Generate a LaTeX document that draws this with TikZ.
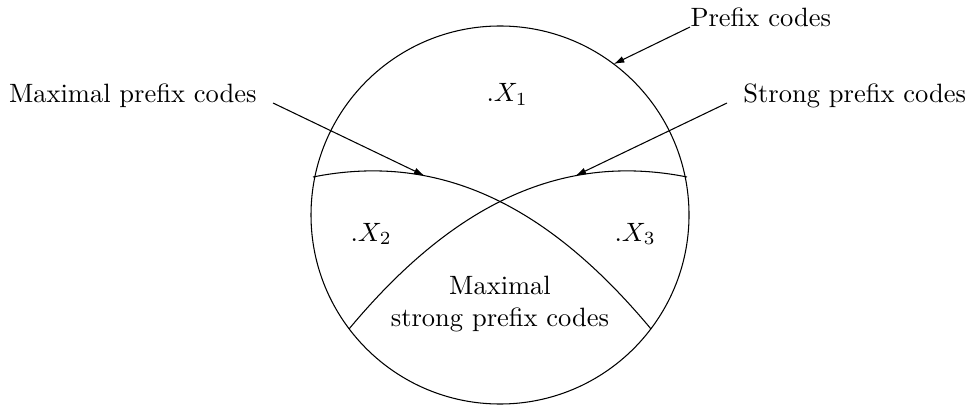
\documentclass[tikz,border=0pt]{standalone}
\usepackage{xcolor}
\usepackage{tikz}
\usetikzlibrary{arrows.meta,positioning,calc}

\begin{document}
\begin{tikzpicture}[x=0.3774pt, y=0.3774pt,
  lbl/.style={inner sep=0pt},
  arrow/.style={-{Latex[length=4pt,width=2.6pt]}}]

\useasboundingbox (0,0) rectangle (968,406);

\node[draw, circle, minimum size=142.66pt, inner sep=0pt, outer sep=0pt] (pc) at (500,191) {};

\draw (313,229) .. controls (443,255) and (551,197) .. (651,77) coordinate[pos=0.3] (maxtip);
\draw (687,229) .. controls (557,255) and (449,197) .. (349,77) coordinate[pos=0.3] (strtip);

\node[lbl, anchor=base west] (pre) at (690,379) {Prefix codes};
\node[lbl, anchor=base east, inner xsep=6pt] (maxl) at (273,303) {Maximal prefix codes};
\node[lbl, anchor=base west, inner xsep=6pt] (strl) at (727,303) {Strong prefix codes};

\node[lbl, anchor=base west] (x1) at (486,304) {$.X_1$};
\node[lbl, anchor=base west] (x2) at (350,165) {$.X_2$};
\node[lbl, anchor=base west] (x3) at (614,165) {$.X_3$};
\node[align=center, inner sep=0pt] (msp) at (500,102) {Maximal\\strong prefix codes};

\draw[arrow] (pre.base west) -- (pc.53);
\draw[arrow] (maxl.base east) -- (maxtip);
\draw[arrow] (strl.base west) -- (strtip);
\end{tikzpicture}
\end{document}
